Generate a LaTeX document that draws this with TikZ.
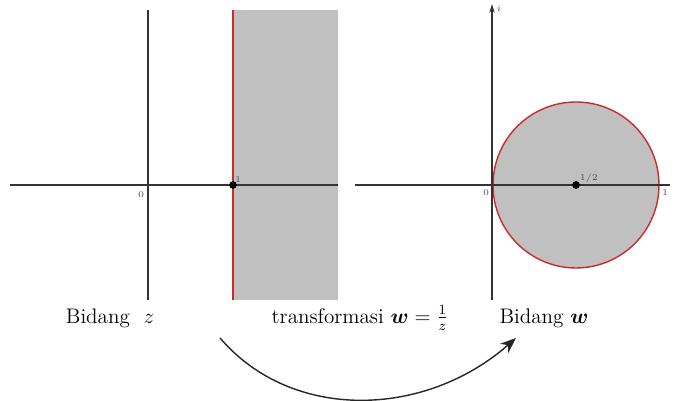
\documentclass[tikz,border=0pt]{standalone}
\usepackage{amsmath}
\usepackage{tikz}
\usetikzlibrary{arrows.meta, positioning}

\definecolor{regiongray}{RGB}{192,192,192}
\definecolor{edgered}{RGB}{200,45,45}

\tikzset{
    axisline/.style={thick, black!80},
    ticklabel/.style={font=\tiny, inner sep=1pt, black!70},
    planelabel/.style={font=\large, inner sep=0pt}
}

\begin{document}
\begin{tikzpicture}[x=0.02cm, y=-0.02cm, >=Stealth]

    \useasboundingbox (0,0) rectangle (676,401);

    % Half plane Re z >= 1
    \fill[regiongray] (233,10) rectangle (338,300);
    \draw[edgered, thick] (233,10) -- (233,300);

    % Axes - z plane
    \coordinate (zleft) at (10,185);
    \coordinate (zright) at (338,185);
    \coordinate (ztop) at (148,10);
    \coordinate (zbottom) at (148,300);
    \draw[axisline] (zleft) -- (zright);
    \draw[axisline] (zbottom) -- (ztop);
    \node[ticklabel] (zorigin) at (141,195) {0};
    \fill (233,185) circle (2.2pt) coordinate (zone);
    \node[ticklabel, above right=0pt and 0pt of zone] (zonelabel) {1};

    % Disc |w - 1/2| <= 1/2
    \draw[edgered, thick, fill=regiongray] (576,185) circle [radius=1.66cm];

    % Axes - w plane
    \coordinate (wleft) at (355,185);
    \coordinate (wright) at (670,185);
    \coordinate (wtop) at (492,4);
    \coordinate (wbottom) at (492,300);
    \draw[axisline] (wleft) -- (wright);
    \draw[axisline, ->, >={Stealth[length=5pt, width=3pt]}] (wbottom) -- (wtop);
    \node[ticklabel] (wimag) at (499,9) {$i$};
    \node[ticklabel] (worigin) at (486,193) {0};
    \node[ticklabel] (wone) at (665,193) {1};
    \fill (576,185) circle (2.2pt) coordinate (whalf);
    \node[ticklabel, above right=0pt and 1pt of whalf] (whalflabel) {1/2};

    % Labels
    \node[planelabel] (zplane) at (110,318) {Bidang\ \ $z$};
    \node[planelabel] (mapping) at (360,318) {transformasi $\boldsymbol{w}=\frac{1}{z}$};
    \node[planelabel] (wplane) at (544,318) {Bidang $\boldsymbol{w}$};

    % Mapping arrow
    \coordinate (mapstart) at (220,338);
    \coordinate (mapend) at (516,338);
    \draw[->, thick, black!85, >={Stealth[length=9pt, width=7pt]}]
        (mapstart) .. controls (292,422) and (425,418) .. (mapend);

\end{tikzpicture}
\end{document}
